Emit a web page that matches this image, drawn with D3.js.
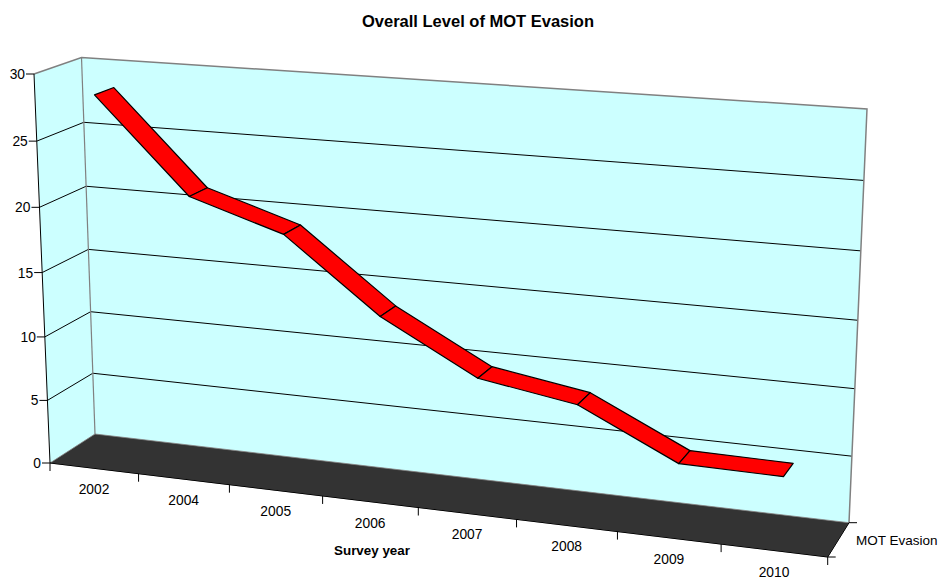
<!DOCTYPE html>
<html>
<head>
<meta charset="utf-8">
<script src="https://cdnjs.cloudflare.com/ajax/libs/d3/7.8.5/d3.min.js"></script>
<style>
  html, body { margin: 0; padding: 0; background: #fff; }
  svg { display: block; }
  text { font-family: "Liberation Sans", Arial, sans-serif; fill: #000; }
</style>
</head>
<body>
<svg width="939" height="579"></svg>
<script>
var categories = ["2002", "2004", "2005", "2006", "2007", "2008", "2009", "2010"];
var evasion = [28.3, 21.2, 18.95, 13.45, 9.55, 8.35, 4.8, 4.7];
var valueTicks = [0, 5, 10, 15, 20, 25, 30];
var seriesName = "MOT Evasion";

var svg = d3.select("svg");

var x = d3.scaleLinear().domain([0, categories.length]).range([0, 1]);
var y = d3.scaleLinear().domain([0, 30]).range([0, 1]);

// corners of the chart box on screen: bottom left, bottom right, top left, top right
var frontPlane = homography([50, 463], [827.7, 557], [34, 74], [847, 127]);
var backPlane = homography([95, 434], [849, 522.7], [81.5, 57.5], [867, 109]);

// unit square -> quad
function homography(p00, p10, p01, p11) {
  var dx1 = p10[0] - p11[0], dx2 = p01[0] - p11[0], sx = p00[0] - p10[0] + p11[0] - p01[0],
      dy1 = p10[1] - p11[1], dy2 = p01[1] - p11[1], sy = p00[1] - p10[1] + p11[1] - p01[1],
      det = dx1 * dy2 - dx2 * dy1,
      g = (sx * dy2 - dx2 * sy) / det,
      h = (dx1 * sy - sx * dy1) / det;
  return function(u, v) {
    var w = g * u + h * v + 1;
    return [
      ((p10[0] - p00[0] + g * p10[0]) * u + (p01[0] - p00[0] + h * p01[0]) * v + p00[0]) / w,
      ((p10[1] - p00[1] + g * p10[1]) * u + (p01[1] - p00[1] + h * p01[1]) * v + p00[1]) / w
    ];
  };
}

// category position, value, depth (0 front, 1 back)
function project(c, val, depth) {
  var a = frontPlane(x(c), y(val)), b = backPlane(x(c), y(val));
  return [a[0] + (b[0] - a[0]) * depth, a[1] + (b[1] - a[1]) * depth];
}

var n = categories.length;
var line = d3.line();
var polygon = function(pts) { return line(pts) + "Z"; };

// walls
svg.append("path")
  .attr("d", polygon([project(0, 0, 0), project(0, 30, 0), project(0, 30, 1), project(0, 0, 1)]))
  .attr("fill", "#ccffff");
svg.append("path")
  .attr("d", polygon([project(0, 0, 1), project(0, 30, 1), project(n, 30, 1), project(n, 0, 1)]))
  .attr("fill", "#ccffff");

// gridlines
svg.append("g").selectAll("path")
  .data(valueTicks.filter(function(d) { return d > 0 && d < 30; }))
  .enter().append("path")
  .attr("d", function(d) { return line([project(0, d, 0), project(0, d, 1), project(n, d, 1)]); })
  .attr("fill", "none")
  .attr("stroke", "#000")
  .attr("stroke-width", 1);

// wall edges
svg.append("path")
  .attr("d", line([project(0, 30, 0), project(0, 30, 1), project(n, 30, 1), project(n, 0, 1)]))
  .attr("fill", "none")
  .attr("stroke", "#808080")
  .attr("stroke-width", 1.5);
svg.append("path")
  .attr("d", line([project(0, 30, 1), project(0, 0, 1)]))
  .attr("fill", "none")
  .attr("stroke", "#808080")
  .attr("stroke-width", 1.2);

// floor
svg.append("path")
  .attr("d", polygon([project(0, 0, 0), project(0, 0, 1), project(n, 0, 1), project(n, 0, 0)]))
  .attr("fill", "#333333")
  .attr("stroke", "#808080")
  .attr("stroke-width", 0.8);

// ribbon
var ribbonFront = 0.3, ribbonBack = 0.72;
svg.append("g").selectAll("path")
  .data(d3.pairs(evasion.map(function(v, i) { return { c: i + 0.5, v: v }; })))
  .enter().append("path")
  .attr("d", function(d) {
    return polygon([
      project(d[0].c, d[0].v, ribbonFront),
      project(d[0].c, d[0].v, ribbonBack),
      project(d[1].c, d[1].v, ribbonBack),
      project(d[1].c, d[1].v, ribbonFront)
    ]);
  })
  .attr("fill", "#ff0000")
  .attr("stroke", "#000")
  .attr("stroke-width", 1.2)
  .attr("stroke-linejoin", "round");

// axis lines
function drawLine(a, b) {
  svg.append("path")
    .attr("d", line([a, b]))
    .attr("fill", "none")
    .attr("stroke", "#000")
    .attr("stroke-width", 1);
}
drawLine(project(0, 30, 0), project(0, 0, 0));
drawLine(project(0, 0, 0), project(n, 0, 0));
drawLine(project(n, 0, 0), project(n, 0, 1));

// value axis
valueTicks.forEach(function(d) {
  var p = project(0, d, 0);
  drawLine([p[0] - 8, p[1]], p);
  svg.append("text")
    .attr("x", p[0] - 9)
    .attr("y", p[1] + 5)
    .attr("text-anchor", "end")
    .attr("font-size", 13.8)
    .text(d);
});

// category axis
d3.range(n + 1).forEach(function(i) {
  var p = project(i, 0, 0);
  drawLine(p, [p[0], p[1] + 8]);
});
categories.forEach(function(c, i) {
  var p = project(i + 0.5, 0, 0);
  svg.append("text")
    .attr("x", p[0])
    .attr("y", p[1] + 26)
    .attr("text-anchor", "middle")
    .attr("font-size", 13.8)
    .text(c);
});

// series axis
[0, 1].forEach(function(depth) {
  var p = project(n, 0, depth);
  drawLine(p, [p[0] + 8, p[1]]);
});
svg.append("text")
  .attr("x", 856)
  .attr("y", 545)
  .attr("font-size", 13.5)
  .text(seriesName);

// titles
svg.append("text")
  .attr("x", 478)
  .attr("y", 27)
  .attr("text-anchor", "middle")
  .attr("font-size", 16.5)
  .attr("font-weight", "bold")
  .text("Overall Level of MOT Evasion");
svg.append("text")
  .attr("x", 372)
  .attr("y", 555)
  .attr("text-anchor", "middle")
  .attr("font-size", 13.4)
  .attr("font-weight", "bold")
  .text("Survey year");
</script>
</body>
</html>
